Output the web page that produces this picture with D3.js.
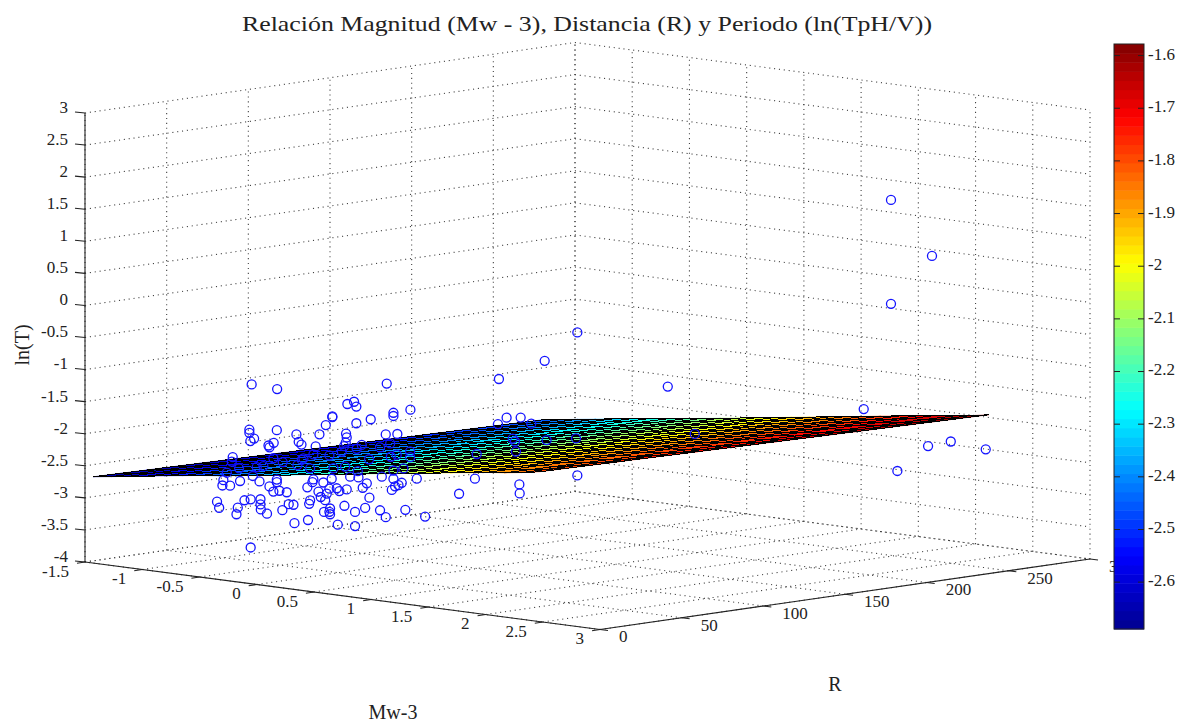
<!DOCTYPE html>
<html>
<head>
<meta charset="utf-8">
<title>Relación Magnitud, Distancia y Periodo</title>
<script src="https://cdn.jsdelivr.net/npm/d3@7"></script>
<style>
  html, body { margin: 0; background: #fff; }
  svg { display: block; }
  text { font-family: "Liberation Serif", serif; fill: #222; }
</style>
</head>
<body>
<svg id="chart" width="1194" height="724"></svg>
<script>
const TITLE = "Relación Magnitud (Mw - 3), Distancia (R) y Periodo (ln(TpH/V))";

const mwTicks = [-1.5, -1, -0.5, 0, 0.5, 1, 1.5, 2, 2.5, 3];
const mwTickLabels = ["-1.5", "-1", "-0.5", "0", "0.5", "1", "1.5", "2", "2.5", "3"];
const rTicks = [0, 50, 100, 150, 200, 250, 300];
const rTickLabels = ["0", "50", "100", "150", "200", "250", "300"];
const zTicks = [-4, -3.5, -3, -2.5, -2, -1.5, -1, -0.5, 0, 0.5, 1, 1.5, 2, 2.5, 3];
const zTickLabels = ["-4", "-3.5", "-3", "-2.5", "-2", "-1.5", "-1", "-0.5", "0", "0.5", "1", "1.5", "2", "2.5", "3"];
const colorTicks = [-1.6, -1.7, -1.8, -1.9, -2, -2.1, -2.2, -2.3, -2.4, -2.5, -2.6];
const colorTickLabels = ["-1.6", "-1.7", "-1.8", "-1.9", "-2", "-2.1", "-2.2", "-2.3", "-2.4", "-2.5", "-2.6"];
const colorRange = [-2.689, -1.578];

// fitted plane: z and colour along Mw at the first R, then the change along R
const surfMw = [-1.5, -1.34, -1.19, -1.03, -0.88, -0.72, -0.56, -0.41, -0.25, -0.1, 0.06, 0.22, 0.37, 0.53, 0.68, 0.84, 1, 1.15, 1.31, 1.46, 1.62, 1.78, 1.93, 2.09, 2.24, 2.4];
const surfR = [5, 21.2, 37.4, 53.5, 69.7, 85.9, 102.1, 118.3, 134.4, 150.6, 166.8, 183, 199.2, 215.3, 231.5, 247.7, 263.9, 280];
const surfZByMw = [-2.69, -2.65, -2.61, -2.57, -2.53, -2.49, -2.45, -2.42, -2.38, -2.34, -2.3, -2.26, -2.22, -2.18, -2.14, -2.1, -2.06, -2.02, -1.98, -1.94, -1.9, -1.86, -1.82, -1.79, -1.75, -1.7];
const surfZByR = [0, -0.007, -0.014, -0.021, -0.028, -0.035, -0.042, -0.049, -0.056, -0.063, -0.07, -0.077, -0.084, -0.091, -0.098, -0.105, -0.112, -0.119];
const surfColorByMw = [-2.69, -2.65, -2.62, -2.58, -2.55, -2.51, -2.47, -2.44, -2.4, -2.37, -2.33, -2.29, -2.26, -2.22, -2.19, -2.15, -2.11, -2.08, -2.04, -2.01, -1.97, -1.93, -1.9, -1.86, -1.83, -1.79];
const surfColorByR = [0, 0.013, 0.026, 0.039, 0.052, 0.065, 0.078, 0.091, 0.104, 0.116, 0.129, 0.142, 0.155, 0.168, 0.181, 0.194, 0.207, 0.22];

// depth can't be read from one view, so each group of points sits at one Mw value
const nearMw = -1;
const nearR = [67, 82.6, 149.7, 125.6, 129.7, 131.1, 164.2, 153.8, 153.8, 116.4, 116.4, 112.4, 131.1, 139.9, 65.6, 65.6, 82.4, 94.4, 108.5, 124.8, 125.2, 149.1, 156.2, 68.5, 66.2, 80.5, 77.3, 77.9, 95.8, 97.5, 106.2, 124.6, 123.6, 134.4, 131.3, 145.6, 151.8, 55.4, 155.8, 164, 164, 152.2, 138.9, 80.3, 98.7, 104.8, 114.6, 122.2, 54.8, 59.3, 70.1, 74.2, 51.8, 86, 95, 97.7, 102.8, 117.1, 124.2, 132, 159.9, 153.8, 146.7, 153.8, 49.7, 49.1, 53.8, 59.9, 67.7, 71.8, 82.4, 82.4, 77.9, 80.3, 84, 88.5, 101.1, 104.2, 110.9, 104.8, 116, 127.3, 132.4, 137.5, 135, 125.2, 119.1, 120.7, 114.6, 113, 107.9, 109.3, 112, 168.1, 158.9, 156.9, 154.8, 152.8, 139.1, 45.8, 47.1, 62.6, 66.4, 72.4, 72.4, 72.6, 58.5, 57.7, 76.4, 85.8, 89.7, 92.6, 102.8, 102.2, 123.8, 136.5, 130.3, 111.3, 115, 114.6, 115, 145.6, 149.1, 161.1, 173.2, 101.5, 93.2, 119.7, 130.3, 66.4, 194, 266.4, 246.4, 218.4, 223.1, 231.7, 217.8, 238.2, 226.8, 228.2, 247.6, 265.6, 228.8, 204.8, 266.4, 203.7, 230.9, 231.1];
const nearLnT = [-1.36, -1.49, -1.65, -1.88, -1.86, -1.94, -2.11, -2.12, -2.17, -2.04, -2.05, -2.16, -2.2, -2.17, -2.06, -2.11, -2.13, -2.24, -2.29, -2.34, -2.4, -2.44, -2.46, -2.21, -2.24, -2.32, -2.35, -2.38, -2.36, -2.41, -2.47, -2.48, -2.53, -2.55, -2.6, -2.63, -2.59, -2.45, -2.78, -2.76, -2.85, -2.8, -2.79, -2.56, -2.63, -2.59, -2.64, -2.61, -2.52, -2.64, -2.66, -2.66, -2.68, -2.64, -2.72, -2.65, -2.8, -2.85, -2.85, -2.95, -3.01, -3.02, -3.09, -3.15, -2.79, -2.87, -2.89, -2.84, -2.79, -2.89, -2.9, -2.94, -2.99, -3.08, -3.08, -3.12, -3.09, -3.02, -3.05, -2.98, -3.01, -3.02, -3.05, -3.16, -3.22, -3.21, -3.17, -3.22, -3.16, -3.23, -3.18, -3.27, -3.33, -3.2, -3.23, -3.26, -3.27, -3.32, -3.39, -3.11, -3.21, -3.15, -3.15, -3.17, -3.25, -3.33, -3.25, -3.35, -3.41, -3.39, -3.31, -3.33, -3.3, -3.35, -3.46, -3.54, -3.58, -3.51, -3.47, -3.52, -3.56, -3.61, -3.73, -3.66, -3.81, -3.6, -3.62, -3.74, -3.8, -3.9, -3.53, -1.28, -1.65, -1.83, -2.45, -2.48, -2.53, -2.6, -2.79, -2.84, -2.89, -2.93, -3, -2.95, -3.51, -3.33, -3.52, -3.66];
const midMw = 1.5;
const midR = [146.6, 163.1];
const midLnT = [-1.1, -1.9];
const farMw = 2.4;
const farR = [203.5, 242.9, 256.8, 278.2, 224.1, 220.2, 245.3, 220.2];
const farLnT = [-1.45, -2.17, -2.15, -2.35, -2.49, 1.75, 0.785, 0.13];

const svg = d3.select("#chart");

// orthographic view of the box: each data axis adds its own screen offset
const originY = 562;
const mwX = d3.scaleLinear().domain([-1.5, 3]).range([85, 600]);
const mwY = d3.scaleLinear().domain([-1.5, 3]).range([0, 67.5]);
const rX = d3.scaleLinear().domain([0, 300]).range([0, 490]);
const rY = d3.scaleLinear().domain([0, 300]).range([0, -70.5]);
const zY = d3.scaleLinear().domain([-4, 3]).range([0, -449]);

const project = (mw, r, z) => [mwX(mw) + rX(r), originY + mwY(mw) + rY(r) + zY(z)];
const line = d3.line();

const jet = d3.scaleLinear()
  .domain([0, 0.125, 0.375, 0.625, 0.875, 1])
  .range(["#00008f", "#0000ff", "#00ffff", "#ffff00", "#ff0000", "#800000"]);
const levels = 64;
const colorLevel = d3.scaleQuantize().domain(colorRange).range(d3.range(levels));
const levelColor = (level) => jet((level + 0.5) / levels);

// grid on the two walls and the floor
const grid = svg.append("g")
  .attr("fill", "none")
  .attr("stroke", "#444")
  .attr("stroke-width", 1.1)
  .attr("stroke-dasharray", "1.1 3.8");

const gridLine = (points) => grid.append("path").attr("d", line(points));

mwTicks.forEach(mw => {
  gridLine([project(mw, 0, -4), project(mw, 300, -4), project(mw, 300, 3)]);
});
rTicks.forEach(r => {
  gridLine([project(3, r, -4), project(-1.5, r, -4), project(-1.5, r, 3)]);
});
zTicks.forEach(z => {
  gridLine([project(-1.5, 0, z), project(-1.5, 300, z), project(3, 300, z)]);
});

// surface: coloured faces first, then the black mesh on top
const surfZ = (i, j) => surfZByMw[i] + surfZByR[j];
const surfColor = (i, j) => surfColorByMw[i] + surfColorByR[j];
const surfPoint = (i, j) => project(surfMw[i], surfR[j], surfZ(i, j));

const faces = svg.append("g");
surfR.slice(1).forEach((r, j) => {
  surfMw.slice(1).forEach((mw, i) => {
    const corners = [[i, j], [i + 1, j], [i + 1, j + 1], [i, j + 1]];
    const color = levelColor(colorLevel(d3.mean(corners, c => surfColor(c[0], c[1]))));
    faces.append("path")
      .attr("d", line(corners.map(c => surfPoint(c[0], c[1]))) + "Z")
      .attr("fill", color)
      .attr("stroke", color)
      .attr("stroke-width", 0.5);
  });
});

const mesh = svg.append("g")
  .attr("fill", "none")
  .attr("stroke", "#000")
  .attr("stroke-width", 1)
  .attr("shape-rendering", "crispEdges");

surfMw.forEach((mw, i) => {
  mesh.append("path").attr("d", line(surfR.map((r, j) => surfPoint(i, j))));
});
surfR.forEach((r, j) => {
  mesh.append("path").attr("d", line(surfMw.map((mw, i) => surfPoint(i, j))));
});

// measured points
const scatter = svg.append("g")
  .attr("fill", "none")
  .attr("stroke", "#1414ff")
  .attr("stroke-width", 1.3);

const drawPoints = (mw, rs, lnTs) => {
  scatter.selectAll(null)
    .data(rs.map((r, i) => project(mw, r, lnTs[i])))
    .join("circle")
    .attr("cx", d => d[0])
    .attr("cy", d => d[1])
    .attr("r", 4.5);
};
drawPoints(nearMw, nearR, nearLnT);
drawPoints(midMw, midR, midLnT);
drawPoints(farMw, farR, farLnT);

// axes
const axes = svg.append("g");
const axisLine = (a, b) => axes.append("line")
  .attr("x1", a[0]).attr("y1", a[1])
  .attr("x2", b[0]).attr("y2", b[1])
  .attr("stroke", "#222")
  .attr("stroke-width", 1.1);

axisLine(project(-1.5, 0, -4), project(-1.5, 0, 3));
axisLine(project(-1.5, 0, -4), project(3, 0, -4));
axisLine(project(3, 0, -4), project(3, 300, -4));

const tickLabel = (x, y, txt, anchor) => axes.append("text")
  .attr("x", x)
  .attr("y", y)
  .attr("text-anchor", anchor)
  .attr("dominant-baseline", "middle")
  .attr("font-size", 17)
  .text(txt);

zTicks.forEach((z, i) => {
  const p = project(-1.5, 0, z);
  axisLine(p, [p[0] - 10, p[1] - 1]);
  tickLabel(68, p[1] - 4, zTickLabels[i], "end");
});
mwTicks.forEach((mw, i) => {
  const p = project(mw, 0, -4);
  axisLine(p, [p[0] - 8, p[1] + 1.2]);
  tickLabel(p[0] - 16, p[1] + 11, mwTickLabels[i], "end");
});
rTicks.forEach((r, i) => {
  const p = project(3, r, -4);
  axisLine(p, [p[0] + 8, p[1] + 1]);
  tickLabel(p[0] + 19, p[1] + 9, rTickLabels[i], "start");
});

// colorbar
const barX = 1114;
const barW = 30;
const barY = d3.scaleLinear().domain(colorRange).range([629, 44]);
const bar = svg.append("g");
const bandHeight = (barY(colorRange[0]) - barY(colorRange[1])) / levels;

bar.selectAll("rect")
  .data(d3.range(levels))
  .join("rect")
  .attr("x", barX)
  .attr("width", barW)
  .attr("y", d => 629 - (d + 1) * bandHeight)
  .attr("height", bandHeight + 0.5)
  .attr("fill", levelColor);

bar.append("rect")
  .attr("x", barX)
  .attr("y", 44)
  .attr("width", barW)
  .attr("height", 585)
  .attr("fill", "none")
  .attr("stroke", "#222");

const barAxis = d3.axisRight(barY)
  .tickValues(colorTicks)
  .tickFormat((d, i) => colorTickLabels[i])
  .tickSize(0)
  .tickPadding(4);

const barAxisG = svg.append("g")
  .attr("transform", `translate(${barX + barW},-2)`)
  .call(barAxis);
barAxisG.select(".domain").remove();
barAxisG.selectAll("text")
  .attr("font-family", "Liberation Serif")
  .attr("font-size", 17)
  .attr("fill", "#222");

colorTicks.forEach(v => {
  [[barX, barX + 6], [barX + barW - 6, barX + barW]].forEach(seg => {
    bar.append("line")
      .attr("x1", seg[0]).attr("x2", seg[1])
      .attr("y1", barY(v)).attr("y2", barY(v))
      .attr("stroke", "#222");
  });
});

// labels
svg.append("text")
  .attr("x", 587)
  .attr("y", 31)
  .attr("text-anchor", "middle")
  .attr("font-size", 21)
  .attr("textLength", 690)
  .attr("lengthAdjust", "spacingAndGlyphs")
  .text(TITLE);

svg.append("text")
  .attr("transform", "translate(29,345) rotate(-90)")
  .attr("text-anchor", "middle")
  .attr("font-size", 20)
  .text("ln(T)");

svg.append("text")
  .attr("x", 835)
  .attr("y", 691)
  .attr("text-anchor", "middle")
  .attr("font-size", 20)
  .text("R");

svg.append("text")
  .attr("x", 393)
  .attr("y", 719)
  .attr("text-anchor", "middle")
  .attr("font-size", 20)
  .text("Mw-3");
</script>
</body>
</html>
